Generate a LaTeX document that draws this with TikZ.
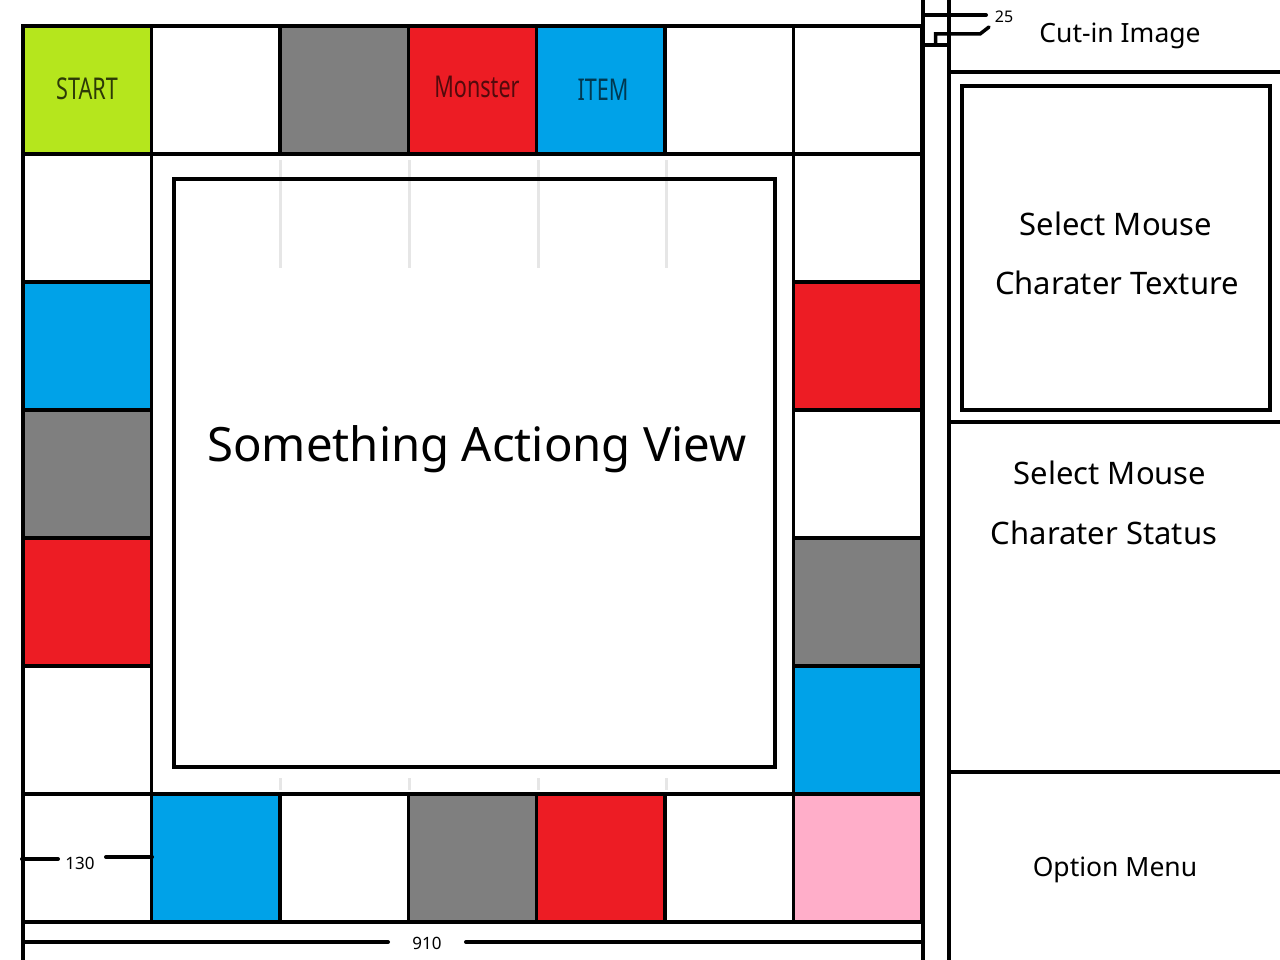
\documentclass[tikz,border=0pt]{standalone}
\usepackage{fontspec}
\setmainfont{Noto Sans}
\usepackage{graphicx}
\definecolor{cgreen}{HTML}{B5E61D}
\definecolor{cred}{HTML}{ED1C24}
\definecolor{cblue}{HTML}{00A2E8}
\definecolor{cgray}{HTML}{7F7F7F}
\definecolor{cpink}{HTML}{FFAEC9}
\definecolor{faint}{HTML}{E6E6E6}
\tikzset{
  cell/.style={draw=black, line width=3.5pt, minimum width=128.43pt, minimum height=128pt, inner sep=0pt, outer sep=0pt},
  celltext/.style={font=\fontsize{30}{30}\selectfont},
  paneltext/.style={font=\fontsize{31}{31}\selectfont, inner sep=0pt},
  smalltext/.style={font=\fontsize{26.5}{26.5}\selectfont, inner sep=0pt},
  dimtext/.style={font=\fontsize{17}{17}\selectfont, inner sep=0pt},
  dimline/.style={line width=4pt, line cap=round},
  faintline/.style={draw=faint, line width=3pt},
}
\newcommand{\narrow}[1]{\scalebox{0.72}[1]{#1}}
\begin{document}
\begin{tikzpicture}[x=1pt,y=-1pt]
\useasboundingbox (0,0) rectangle (1280,960);
\fill[white] (0,0) rectangle (1280,960);
% faint guide lines
\foreach \xx [count=\k] in {280,409,538,666} {
  \draw[faintline] (\xx,160) -- (\xx,268);
  \draw[faintline] (\xx,778) -- (\xx,790);
}
% cells: top row
\foreach \c/\col [count=\i from 0] in {a/cgreen,b/white,c/cgray,d/cred,e/cblue,f/white,g/white} {
  \node[cell, fill=\col] (t\c) at ({23+128.43*(\i+0.5)},90) {};
}
% bottom row
\foreach \c/\col [count=\i from 0] in {a/white,b/cblue,c/white,d/cgray,e/cred,f/white,g/cpink} {
  \node[cell, fill=\col] (b\c) at ({23+128.43*(\i+0.5)},858) {};
}
% left column rows 1..5
\foreach \c/\col [count=\j from 1] in {a/white,b/cblue,c/cgray,d/cred,e/white} {
  \node[cell, fill=\col] (l\c) at ({23+128.43*0.5},{26+128*(\j+0.5)}) {};
}
% right column rows 1..5
\foreach \c/\col [count=\j from 1] in {a/white,b/cred,c/white,d/cgray,e/cblue} {
  \node[cell, fill=\col] (r\c) at ({23+128.43*6.5},{26+128*(\j+0.5)}) {};
}
% cell labels
\node[celltext, text=cgreen!25!black] (startlbl) at (87,89) {\narrow{START}};
\node[celltext, text=cred!35!black] (monsterlbl) at (477,87) {\narrow{Monster}};
\node[celltext, text=cblue!35!black] (itemlbl) at (603,90) {\narrow{ITEM}};
% inner view
\node[draw=black, line width=4pt, minimum width=601pt, minimum height=588pt, inner sep=0pt] (view) at (474.5,473) {};
\node[font=\fontsize{47.3}{47.3}\selectfont, inner sep=0pt] (viewlbl) at (477,449) {Something Actiong View};
% structural lines
\coordinate (vtop) at (923,0);
\coordinate (vbot) at (923,960);
\draw[line width=3.5pt] (vtop) -- (vbot);
\coordinate (ltop) at (23,922);
\coordinate (lbot) at (23,960);
\draw[line width=3.5pt] (ltop) -- (lbot);
\coordinate (ptop) at (949,0);
\coordinate (pbot) at (949,960);
\draw[line width=4pt] (ptop) -- (pbot);
\coordinate (h1a) at (949,72); \coordinate (h1b) at (1280,72);
\coordinate (h2a) at (949,422); \coordinate (h2b) at (1280,422);
\coordinate (h3a) at (949,772); \coordinate (h3b) at (1280,772);
\draw[line width=4pt] (h1a) -- (h1b) (h2a) -- (h2b) (h3a) -- (h3b);
\node[draw=black, line width=4.5pt, minimum width=308pt, minimum height=324pt, inner sep=0pt] (texbox) at (1116,248) {};
% texts right panel
\node[smalltext] (cutin) at (1120,36) {Cut-in Image};
\node[paneltext] (sm1) at (1116,224) {Select Mouse};
\node[paneltext] (ct) at (1117,283) {Charater Texture};
\node[paneltext] (sm2) at (1110,473) {Select Mouse};
\node[paneltext] (cs) at (1104,533) {Charater Status};
\node[smalltext] (opt) at (1115,870) {Option Menu};
% 25 annotation
\coordinate (a1) at (923,15); \coordinate (a2) at (986,15);
\draw[dimline] (a1) -- (a2);
\coordinate (a3) at (923,45); \coordinate (a4) at (951,45);
\draw[line width=3.5pt] (a3) -- (a4);
\coordinate (a5) at (935.5,45); \coordinate (a6) at (935.5,34); \coordinate (a7) at (980,34); \coordinate (a8) at (989,27);
\draw[line width=3.5pt, line cap=round] (a5) -- (a6) -- (a7) -- (a8);
\node[dimtext, font=\fontsize{16}{16}\selectfont] (d25) at (1004,17) {25};
% 130 annotation
\node[dimtext] (d130) at (80,863) {130};
\coordinate (c1) at (22,859); \coordinate (c2) at (58,859);
\coordinate (c3) at (106,857); \coordinate (c4) at (152,857);
\draw[dimline] (c1) -- (c2);
\draw[dimline] (c3) -- (c4);
% 910 annotation
\node[dimtext] (d910) at (427,943) {910};
\coordinate (e1) at (23,942); \coordinate (e2) at (388,942);
\coordinate (e3) at (466,942); \coordinate (e4) at (923,942);
\draw[dimline] (e1) -- (e2);
\draw[dimline] (e3) -- (e4);
\end{tikzpicture}
\end{document}
